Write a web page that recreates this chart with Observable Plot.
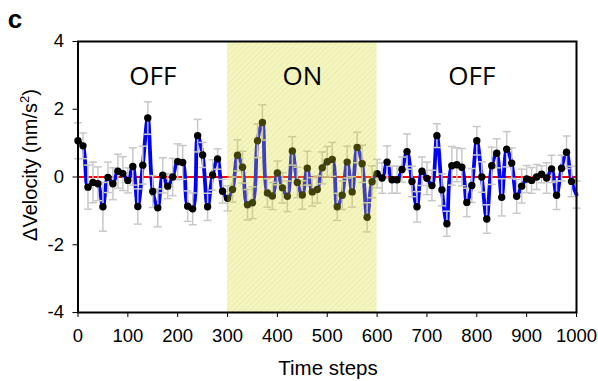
<!DOCTYPE html>
<html>
<head>
<meta charset="utf-8">
<script src="https://cdn.jsdelivr.net/npm/d3@7"></script>
<script src="https://cdn.jsdelivr.net/npm/@observablehq/plot@0.6"></script>
<style>
  html, body { margin: 0; padding: 0; background: #fff; }
  svg { display: block; }
</style>
</head>
<body>
<script>
// Time steps (one sample every 10 steps)
const steps = d3.range(0, 1001, 10);

// ΔVelocity mean values (nm/s²)
const values = [
  1.07, 0.92, -0.30, -0.16, -0.20, -0.88, -0.01, -0.20, 0.17, 0.10,
  -0.10, 0.31, -0.87, 0.35, 1.74, -0.43, -0.91, 0.05, -0.27, 0.00,
  0.45, 0.43, -0.86, -0.94, 1.22, 0.65, -0.88, 0.06, 0.53, -0.42,
  -0.63, -0.37, 0.64, 0.29, -0.82, -0.76, 1.07, 1.61, -0.47, -0.56,
  0.12, -0.32, -0.57, 0.77, -0.16, -0.53, 0.26, -0.44, -0.37, 0.27,
  0.45, 0.52, -0.88, -0.54, 0.44, -0.44, 0.87, 0.39, -1.19, -0.14,
  0.10, -0.03, 0.44, -0.08, -0.08, 0.22, 0.75, -0.13, -0.88, 0.17,
  -0.04, -0.25, 1.22, -0.38, -1.38, 0.33, 0.36, 0.29, -0.75, -0.25,
  1.07, 0.00, -1.24, 0.33, 0.70, -0.60, 0.82, 0.41, -0.57, -0.27,
  -0.06, -0.10, 0.00, 0.08, -0.03, 0.24, -0.54, 0.26, 0.73, -0.13,
  -0.52
];

// Error bar half-lengths
const errors = [
  0.53, 0.38, 0.65, 0.60, 0.50, 0.72, 0.45, 0.47, 0.50, 0.50,
  0.37, 0.55, 0.52, 0.56, 0.48, 0.47, 0.56, 0.52, 0.37, 0.55,
  0.53, 0.50, 0.45, 0.47, 0.48, 0.37, 0.40, 0.45, 0.30, 0.35,
  0.37, 0.37, 0.46, 0.47, 0.45, 0.47, 0.50, 0.52, 0.42, 0.40,
  0.35, 0.45, 0.45, 0.42, 0.45, 0.42, 0.50, 0.42, 0.40, 0.47,
  0.45, 0.50, 0.40, 0.42, 0.47, 0.45, 0.45, 0.55, 0.43, 0.47,
  0.42, 0.45, 0.48, 0.40, 0.40, 0.37, 0.52, 0.45, 0.45, 0.42,
  0.48, 0.45, 0.35, 0.47, 0.37, 0.57, 0.50, 0.55, 0.42, 0.50,
  0.42, 0.45, 0.42, 0.55, 0.43, 0.55, 0.52, 0.45, 0.50, 0.50,
  0.40, 0.38, 0.37, 0.25, 0.45, 0.40, 0.42, 0.38, 0.48, 0.45,
  0.40
];

// Phase labels
const phaseLabels = ["OFF", "ON", "OFF"];
const phaseLabelX = [150, 450, 790];
const phaseLabelY = 2.95;

// Stimulus ON window
const onStart = 300;
const onEnd = 600;

// Tick labels
const xTicks = [0, 100, 200, 300, 400, 500, 600, 700, 800, 900, 1000];
const yTicks = [-4, -2, 0, 2, 4];

const data = steps.map((x, i) => ({x, v: values[i], e: errors[i]}));
const phases = phaseLabels.map((t, i) => ({text: t, x: phaseLabelX[i], y: phaseLabelY}));
const onWindow = [{x1: onStart, x2: onEnd}];

const capHalf = 8;

const chart = Plot.plot({
  width: 598,
  height: 381,
  marginLeft: 77.5,
  marginRight: 22,
  marginTop: 41,
  marginBottom: 69,
  x: {domain: [0, 1000]},
  y: {domain: [-4, 4]},
  style: {fontFamily: "'Liberation Sans', Arial, sans-serif", fontSize: "18.5px", color: "black", background: "white"},
  marks: [
    Plot.ruleY([0], {stroke: "#ff0000", strokeWidth: 2}),
    Plot.line(data, {x: "x", y: "v", stroke: "#0000ff", strokeWidth: 3.8, curve: "catmull-rom"}),
    Plot.ruleX(data, {x: "x", y1: d => d.v - d.e, y2: d => d.v + d.e, stroke: "#c8c8c8", strokeWidth: 1.5}),
    Plot.link(data, {x1: d => d.x - capHalf, x2: d => d.x + capHalf, y1: d => d.v + d.e, y2: d => d.v + d.e, stroke: "#c8c8c8", strokeWidth: 1.5}),
    Plot.link(data, {x1: d => d.x - capHalf, x2: d => d.x + capHalf, y1: d => d.v - d.e, y2: d => d.v - d.e, stroke: "#c8c8c8", strokeWidth: 1.5}),
    Plot.dot(data.filter(d => d.x < 1000), {x: "x", y: "v", r: 3.7, fill: "black", stroke: "none"}),
    Plot.rect(onWindow, {x1: "x1", x2: "x2", y1: -4, y2: 4, fill: "url(#hatch)", fillOpacity: 0.3}),
    Plot.text(phases, {x: "x", y: "y", text: "text", fontSize: 26, fontFamily: "'Open Sans', sans-serif", fill: "black"}),
    Plot.axisX({ticks: xTicks, tickSize: 5, tickPadding: 11, label: null, tickFormat: d => String(d)}),
    Plot.axisY({ticks: yTicks, tickSize: 5, tickPadding: 9, label: null, tickFormat: d => String(d)}),
    Plot.frame({stroke: "black", strokeWidth: 2})
  ]
});

document.body.appendChild(chart);

const svg = d3.select(chart);
svg.insert("defs", ":first-child").html(
  '<pattern id="hatch" patternUnits="userSpaceOnUse" width="4" height="4" patternTransform="rotate(45)">' +
  '<rect width="4" height="4" fill="rgb(222,222,40)"></rect>' +
  '<line x1="0" y1="0" x2="0" y2="4" stroke="rgb(180,180,0)" stroke-width="1.6"></line>' +
  '</pattern>'
);

// Panel letter
svg.append("text")
  .attr("x", 15).attr("y", 28)
  .attr("font-family", "'Liberation Sans', Arial, sans-serif")
  .attr("font-weight", "bold").attr("font-size", 26)
  .attr("fill", "black")
  .text("c");

// X axis title
svg.append("text")
  .attr("x", 328).attr("y", 375)
  .attr("text-anchor", "middle")
  .attr("font-family", "'Liberation Sans', Arial, sans-serif")
  .attr("font-size", 20.5).attr("fill", "black")
  .text("Time steps");

// Y axis title
const yl = svg.append("text")
  .attr("transform", "translate(37,165) rotate(-90)")
  .attr("text-anchor", "middle")
  .attr("font-family", "'Liberation Sans', Arial, sans-serif")
  .attr("font-size", 20).attr("fill", "black");
yl.append("tspan").text("ΔVelocity (nm/s");
yl.append("tspan").attr("dy", -8).attr("font-size", 13).text("2");
yl.append("tspan").attr("dy", 8).text(")");
</script>
</body>
</html>
